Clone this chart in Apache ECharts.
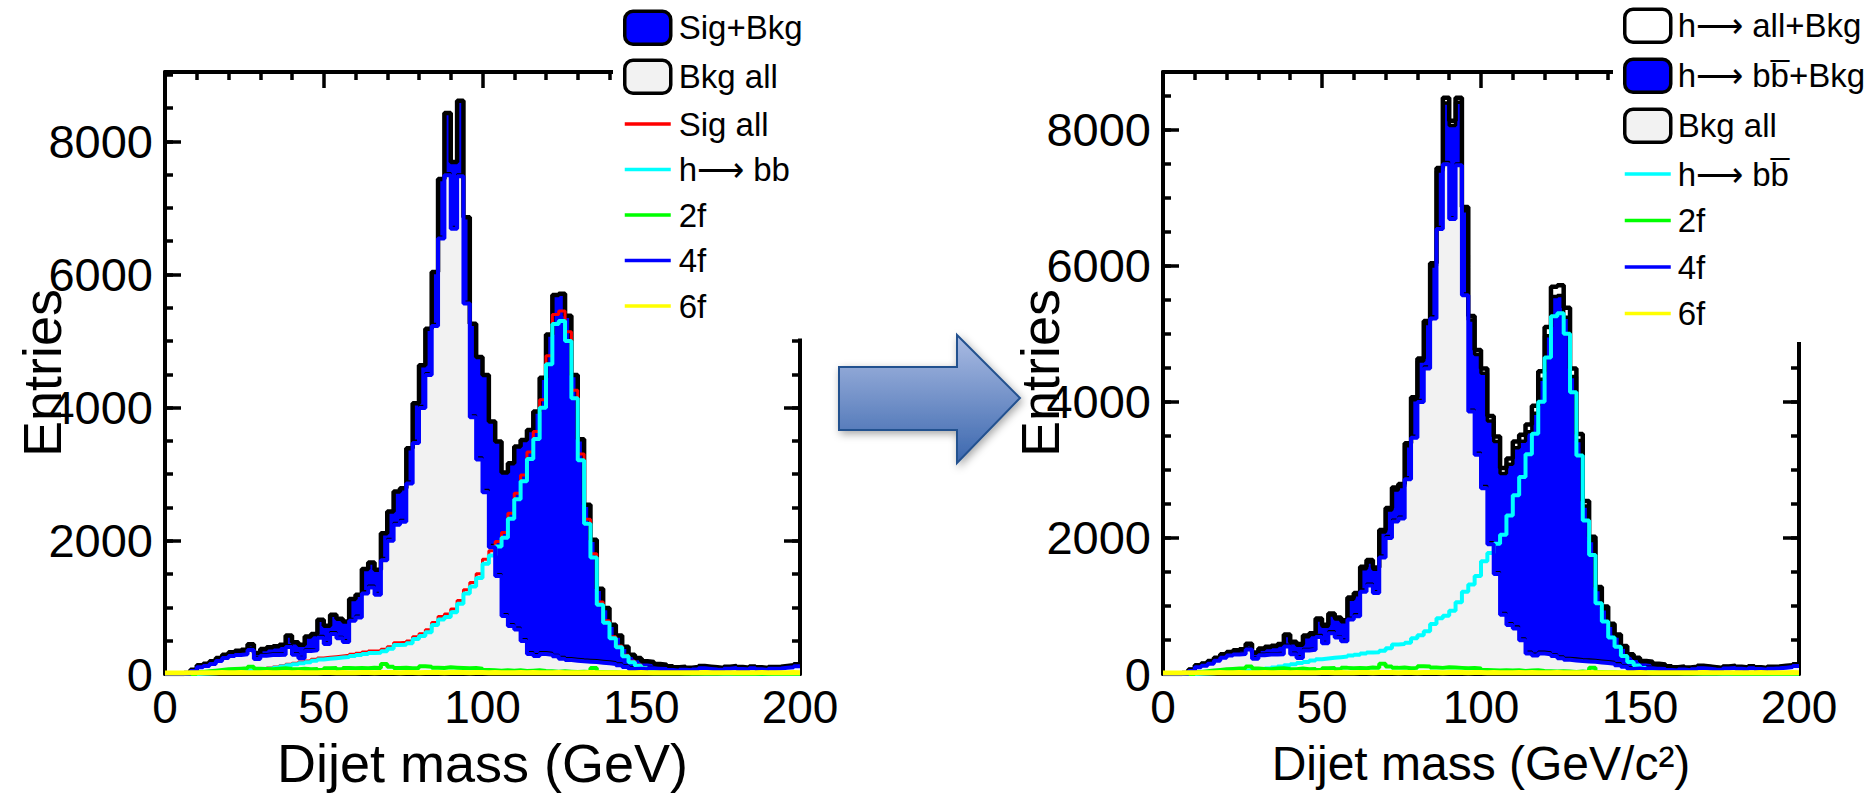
<!DOCTYPE html>
<html><head><meta charset="utf-8">
<script src="https://cdn.jsdelivr.net/npm/echarts@6/dist/echarts.min.js"></script>
<style>html,body{margin:0;padding:0;background:#fff}#c{width:1876px;height:794px}</style>
</head><body><div id="c"></div>
<script>
// Histogram binning: 100 bins of 2 GeV from 0 to 200
const binLo = 0, binW = 2;
const xTickLabels = [0, 50, 100, 150, 200];
const yTickLabels = [0, 2000, 4000, 6000, 8000];

// Sig+Bkg (total, black outline / blue fill, left panel)
const total = [0,0,0,15,65,130,155,190,240,290,
 325,350,365,445,315,375,400,415,440,580,
 475,440,565,600,815,725,890,830,790,1125,
 1190,1575,1675,1565,2115,2440,2740,2790,3390,4065,
 4635,5185,6035,7435,8425,7690,8610,6860,5260,4760,
 4490,3790,3490,3025,3165,3415,3515,3665,3940,4450,
 5100,5690,5710,5380,4490,3525,2540,2015,1280,990,
 740,580,410,290,240,190,180,150,140,115,
 100,110,95,105,120,110,100,90,110,120,
 105,95,114,100,90,105,110,120,130,145];
// h -> all + Bkg (black outline, right panel)
const totalR = [0,0,0,15,65,130,155,190,240,290,
 325,350,365,445,315,375,400,415,440,580,
 475,440,565,600,815,725,890,830,790,1125,
 1190,1575,1675,1565,2115,2440,2740,2790,3390,4065,
 4635,5185,6035,7435,8465,8130,8465,6860,5260,4760,
 4490,3790,3490,3025,3165,3415,3515,3665,3940,4450,
 5100,5690,5710,5380,4490,3525,2540,2015,1280,990,
 740,580,410,290,240,190,180,150,140,115,
 100,110,95,105,120,110,100,90,110,120,
 105,95,114,100,90,105,110,120,130,145];
// h -> bb + Bkg (blue fill, right panel)
const hbbBkgR = [0,0,0,15,65,128,153,187,237,287,
 322,345,360,440,308,368,390,405,427,565,
 460,423,548,580,793,703,868,807,766,1100,
 1164,1547,1646,1538,2085,2408,2705,2755,3355,4030,
 4600,5148,5995,7390,8390,8060,8400,6805,5200,4695,
 4420,3718,3415,2945,3080,3325,3420,3560,3830,4330,
 4970,5545,5560,5240,4370,3430,2470,1960,1240,960,
 715,560,395,278,230,183,174,146,136,112,
 97,108,93,103,118,109,99,89,109,119,
 104,94,113,99,89,104,109,119,129,144];
// Signal, all Higgs decays (Sig all)
const sigAll = [0,0,0,0,0,5,10,15,20,25,
 30,40,45,55,65,75,90,105,125,145,
 160,180,195,220,240,250,260,270,280,295,
 310,330,345,345,370,410,470,475,495,560,
 605,665,775,865,900,975,1105,1265,1375,1505,
 1725,1850,1990,2125,2415,2715,2990,3335,3640,4120,
 4780,5400,5450,5140,4260,3305,2325,1805,1080,800,
 560,420,280,190,135,95,70,50,40,30,
 25,20,15,12,10,8,7,6,5,5,
 4,4,3,3,3,2,2,2,2,2];
// h -> bb
const hbb = [0,0,0,0,0,3,8,12,17,22,
 27,35,40,50,58,68,80,95,112,130,
 145,163,178,200,218,228,238,247,256,270,
 284,302,316,318,340,378,435,440,460,525,
 570,628,735,820,855,928,1055,1210,1315,1440,
 1655,1778,1915,2045,2330,2625,2895,3230,3530,4000,
 4650,5255,5300,5000,4140,3210,2255,1750,1040,770,
 535,400,265,178,125,88,64,46,36,27,
 22,18,13,10,8,7,6,5,4,4,
 3,3,2,2,2,1,1,1,1,1];
// Background, all
const bkgAll = [0,0,0,15,65,125,145,175,220,265,
 295,310,320,390,250,300,310,310,315,435,
 315,260,370,380,575,475,630,560,510,830,
 880,1245,1330,1220,1745,2030,2270,2315,2895,3505,
 4030,4520,5260,6570,7525,6715,7505,5595,3885,3255,
 2765,1940,1500,900,750,700,525,330,300,330,
 320,290,260,240,230,220,215,210,200,190,
 180,160,130,100,105,95,110,100,100,85,
 75,90,80,93,110,102,93,84,105,115,
 101,91,111,97,87,103,108,118,128,143];
// 2-fermion background
const f2 = [0,0,0,0,0,30,40,50,60,70,
 75,80,85,110,80,75,70,80,85,75,
 70,80,70,75,60,85,90,70,90,85,
 90,85,95,90,150,110,90,95,85,90,
 115,110,95,90,100,95,90,85,90,80,
 60,55,50,55,50,55,45,50,55,45,
 40,35,40,35,30,35,30,90,30,25,
 25,20,20,15,15,15,12,12,10,10,
 10,8,8,8,8,6,6,6,6,5,
 5,5,5,5,4,4,4,4,4,4];
// 4-fermion background
const f4 = [0,0,0,5,45,100,120,150,195,240,
 270,285,295,360,225,275,285,285,290,405,
 290,235,345,355,545,450,600,535,480,800,
 850,1210,1300,1190,1710,2000,2240,2285,2860,3470,
 3995,4490,5225,6540,7490,6685,7475,5565,3855,3220,
 2730,1905,1470,870,720,670,495,300,270,300,
 290,265,230,210,200,190,185,180,170,160,
 150,130,105,75,80,70,85,75,75,60,
 50,65,55,68,85,77,68,60,80,90,
 76,66,86,72,62,78,83,93,103,118];
// 6-fermion background
const f6 = [15,16,15,17,18,20,19,20,21,20,
 20,21,20,19,20,21,20,20,22,20,
 21,20,19,20,21,22,20,21,20,20,
 21,22,20,21,22,21,20,22,21,20,
 22,21,22,20,21,22,21,20,21,22,
 20,21,20,19,20,21,20,21,20,19,
 20,21,20,19,20,20,21,20,19,20,
 20,19,20,20,21,20,19,20,20,19,
 20,20,19,20,21,20,20,19,20,20,
 19,20,20,21,20,19,20,20,21,20];

function hist(vals) {
  const d = [];
  for (let i = 0; i < vals.length; i++) d.push([binLo + i * binW, vals[i]]);
  d.push([binLo + vals.length * binW, vals[vals.length - 1]]);
  return d;
}

const FONT = "'Liberation Sans', Arial, sans-serif";
const BLUE = '#0000ff', GRAY = '#f2f2f2', CYAN = '#00ffff', GREEN = '#00ff00', YELLOW = '#ffff00', RED = '#ff0000';
const ARROW = '\u27F6';
const BBAR = 'bb\u0305';

const grids = [
  {left: 165, top: 72, width: 635, height: 602, outerBoundsMode: 'none', containLabel: false},
  {left: 1163, top: 72, width: 636, height: 602, outerBoundsMode: 'none', containLabel: false}
];
const yMaxs = [9040, 8845];
const xNames = ['Dijet mass (GeV)', 'Dijet mass (GeV/c\u00B2)'];
const xNameSize = [54, 48];

const xAxes = [], yAxes = [];
for (let g = 0; g < 2; g++) {
  const baseX = {
    gridIndex: g, type: 'value', min: xTickLabels[0], max: xTickLabels[xTickLabels.length - 1], interval: 50,
    axisLine: {show: true, onZero: false, lineStyle: {color: '#000', width: 4}},
    axisTick: {show: true, inside: true, length: 16, lineStyle: {color: '#000', width: 3.5}},
    minorTick: {show: true, splitNumber: 5, length: 8, lineStyle: {color: '#000', width: 3.5}},
    splitLine: {show: false}
  };
  xAxes.push(Object.assign({}, baseX, {
    position: 'bottom',
    axisLabel: {show: true, fontSize: 46, lineHeight: 46, color: '#000', fontFamily: FONT, margin: 10, formatter: v => String(v)},
    name: xNames[g], nameLocation: 'middle', nameGap: 62, nameMoveOverlap: false,
    nameTextStyle: {fontSize: xNameSize[g], lineHeight: 54, color: '#000', fontFamily: FONT}
  }));
  xAxes.push(Object.assign({}, baseX, {position: 'top', axisLabel: {show: false}}));
  const majorY = {
    gridIndex: g, type: 'value', min: yTickLabels[0], max: yMaxs[g], interval: 2000,
    axisLine: {show: true, onZero: false, lineStyle: {color: '#000', width: 4}},
    axisTick: {show: true, inside: true, length: 16, lineStyle: {color: '#000', width: 3.5}},
    splitLine: {show: false}
  };
  const minorY = {
    gridIndex: g, type: 'value', min: yTickLabels[0], max: yMaxs[g], interval: 500,
    axisLine: {show: false, onZero: false},
    axisTick: {show: true, inside: true, length: 8, lineStyle: {color: '#000', width: 3.5}},
    axisLabel: {show: false}, splitLine: {show: false}
  };
  yAxes.push(Object.assign({}, majorY, {
    position: 'left',
    axisLabel: {show: true, showMaxLabel: false, fontSize: 47, color: '#000', fontFamily: FONT, margin: 12, formatter: v => String(v)},
    name: 'Entries', nameLocation: 'middle', nameRotate: 90, nameGap: 96, nameMoveOverlap: false,
    nameTextStyle: {fontSize: 54, color: '#000', fontFamily: FONT}
  }));
  yAxes.push(Object.assign({}, minorY, {position: 'left'}));
  yAxes.push(Object.assign({}, majorY, {position: 'right', axisLabel: {show: false}}));
  yAxes.push(Object.assign({}, minorY, {position: 'right'}));
}

function lineSer(name, vals, color, width, xi, yi, extra) {
  return Object.assign({
    name: name, type: 'line', step: 'end', data: hist(vals), xAxisIndex: xi, yAxisIndex: yi,
    symbol: 'none', showSymbol: false, silent: true, animation: false,
    lineStyle: {color: color, width: width}, itemStyle: {color: color}
  }, extra || {});
}

const series = [
  // left panel
  lineSer('Sig+Bkg', total, '#000', 4.5, 0, 0, {areaStyle: {color: BLUE, opacity: 1}}),
  lineSer('Bkg all', bkgAll, '#000', 2, 0, 0, {areaStyle: {color: GRAY, opacity: 1}}),
  lineSer('Sig all', sigAll, RED, 3, 0, 0),
  lineSer('h' + ARROW + ' bb', hbb, CYAN, 4, 0, 0),
  lineSer('2f', f2, GREEN, 4, 0, 0),
  lineSer('4f', f4, BLUE, 4, 0, 0),
  lineSer('6f', f6, YELLOW, 5, 0, 0),
  // right panel
  lineSer('h' + ARROW + ' all+Bkg', totalR, '#000', 4.5, 2, 4, {areaStyle: {color: '#ffffff', opacity: 1}}),
  lineSer('h' + ARROW + ' ' + BBAR + '+Bkg', hbbBkgR, '#000', 3.5, 2, 4, {areaStyle: {color: BLUE, opacity: 1}}),
  lineSer('Bkg all', bkgAll, '#000', 2, 2, 4, {areaStyle: {color: GRAY, opacity: 1}}),
  lineSer('h' + ARROW + ' ' + BBAR, hbb, CYAN, 4, 2, 4),
  lineSer('2f', f2, GREEN, 4, 2, 4),
  lineSer('4f', f4, BLUE, 4, 2, 4),
  lineSer('6f', f6, YELLOW, 5, 2, 4)
];

const LINE_ICON = 'path://M0,0L0.01,0L0.01,0.01Z M0,14.8L46,14.8L46,18.2L0,18.2Z M0,32.99L0.01,32.99L0.01,33Z';
function box(name, fill) {
  return {name: name, icon: 'roundRect', itemStyle: {color: fill, borderColor: '#000', borderWidth: 3.5}};
}
function lin(name, color) {
  return {name: name, icon: LINE_ICON, itemStyle: {color: color, borderWidth: 0}};
}
const legendBase = {
  orient: 'vertical', top: 0, itemWidth: 46, itemHeight: 33,
  backgroundColor: '#ffffff', selectedMode: false, z: 10
};
const legends = [
  Object.assign({}, legendBase, {
    left: 613, padding: [9.5, 20, 16, 10], itemGap: 12.5,
    textStyle: {fontSize: 33, color: '#000', fontFamily: FONT, padding: [0, 0, 0, 3]},
    data: [box('Sig+Bkg', BLUE), box('Bkg all', GRAY), lin('Sig all', RED), lin('h' + ARROW + ' bb', CYAN),
           lin('2f', GREEN), lin('4f', BLUE), lin('6f', YELLOW)]
  }),
  Object.assign({}, legendBase, {
    left: 1613, padding: [7.5, 0, 12, 10], itemGap: 13.5,
    textStyle: {fontSize: 33, color: '#000', fontFamily: FONT, padding: [0, 0, 0, 2]},
    data: [box('h' + ARROW + ' all+Bkg', '#ffffff'), box('h' + ARROW + ' ' + BBAR + '+Bkg', BLUE), box('Bkg all', GRAY),
           lin('h' + ARROW + ' ' + BBAR, CYAN), lin('2f', GREEN), lin('4f', BLUE), lin('6f', YELLOW)]
  })
];

const chart = echarts.init(document.getElementById('c'), null, {renderer: 'svg', width: 1876, height: 794});
chart.setOption({
  animation: false,
  backgroundColor: '#ffffff',
  grid: grids,
  xAxis: xAxes,
  yAxis: yAxes,
  legend: legends,
  series: series,
  graphic: [{
    type: 'polygon', z: 100,
    shape: {points: [[839, 367], [957, 367], [957, 335], [1020, 398], [957, 463], [957, 430], [839, 430]]},
    style: {
      fill: {type: 'linear', x: 0, y: 0, x2: 0, y2: 1, colorStops: [{offset: 0, color: '#abbce3'}, {offset: 1, color: '#3b67ae'}]},
      stroke: '#24518f', lineWidth: 2, shadowBlur: 8, shadowColor: 'rgba(0,0,0,0.35)', shadowOffsetX: 2, shadowOffsetY: 3
    }
  }]
});
</script>
</body></html>
